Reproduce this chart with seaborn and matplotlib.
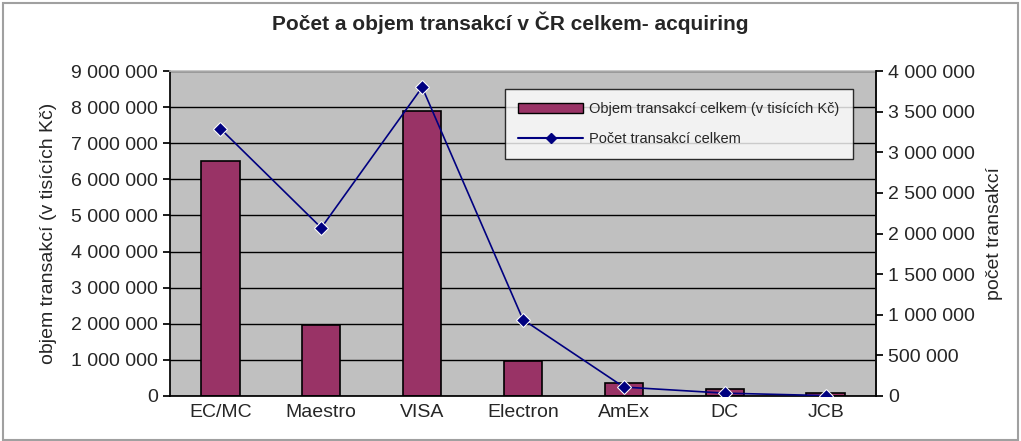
import matplotlib
matplotlib.use("Agg")
import matplotlib.pyplot as plt
import seaborn as sns
import pandas as pd
import numpy as np
from matplotlib.ticker import FuncFormatter

categories = ["EC/MC", "Maestro", "VISA", "Electron", "AmEx", "DC", "JCB"]
objem = [6500000, 1960000, 7900000, 970000, 360000, 190000, 80000]
pocet = [3290000, 2070000, 3800000, 940000, 110000, 35000, 5000]

df = pd.DataFrame({"karta": categories, "objem": objem, "pocet": pocet})

sns.set_theme(style="white")
plt.rcParams['font.family'] = ['Liberation Sans', 'DejaVu Sans']

fig = plt.figure(figsize=(10.21, 4.41), dpi=100)
ax = fig.add_axes([170/1021, 1 - 396/441, (876-170)/1021, (396-71)/441])
ax.set_facecolor("#c0c0c0")

sns.barplot(data=df, x="karta", y="objem", ax=ax, color="#993366",
            edgecolor="black", linewidth=1.2, width=0.38, saturation=1)
ax.set_ylim(0, 9000000)
ax.set_yticks(np.arange(0, 9000001, 1000000))
fmt = FuncFormatter(lambda v, p: f"{int(v):,}".replace(",", " "))
ax.yaxis.set_major_formatter(fmt)
ax.grid(axis="y", color="black", linewidth=1)
ax.set_axisbelow(True)
ax.set_xlabel("")
ax.set_ylabel("objem transakcí (v tisících Kč)", fontsize=14, labelpad=10)
ax.tick_params(axis="both", labelsize=14, length=5, color="black", direction="out")
ax.tick_params(axis="x", pad=6)
ax.set_xlim(-0.5, 6.5)
ax.set_xticks(np.arange(-0.5, 7, 1), minor=True)
ax.tick_params(axis="x", which="major", length=0)
ax.tick_params(axis="x", which="minor", length=5, color="black")
for s in ["left", "bottom", "right", "top"]:
    ax.spines[s].set_color("black")
ax.spines["top"].set_color("#c0c0c0")
ax.spines["right"].set_color("#808080")

ax2 = ax.twinx()
sns.lineplot(data=df, x="karta", y="pocet", ax=ax2, color="#000080",
             marker="D", markersize=7, linewidth=1.2, sort=False)
ax2.set_ylim(0, 4000000)
ax2.set_yticks(np.arange(0, 4000001, 500000))
ax2.yaxis.set_major_formatter(fmt)
ax2.set_ylabel("počet transakcí", fontsize=14, labelpad=8)
ax2.tick_params(axis="y", labelsize=14, length=5, color="black", direction="out")
ax2.spines["right"].set_color("black")
ax2.spines["left"].set_visible(False)
ax2.spines["top"].set_visible(False)
ax2.spines["bottom"].set_visible(False)
ax2.set_xlabel("")

from matplotlib.patches import Patch
from matplotlib.lines import Line2D
handles = [Patch(facecolor="#993366", edgecolor="black", label="Objem transakcí celkem (v tisících Kč)"),
           Line2D([0], [0], color="#000080", marker="D", markersize=5, label="Počet transakcí celkem")]
leg = ax2.legend(handles=handles, loc="upper right", bbox_to_anchor=(0.967, 0.945),
                 fontsize=10.5, frameon=True, fancybox=False, facecolor="white",
                 edgecolor="black", handlelength=4.5, borderpad=0.9, labelspacing=1.1,
                 borderaxespad=0, handletextpad=0.4)
leg.get_frame().set_linewidth(1)

fig.suptitle("Počet a objem transakcí v ČR celkem- acquiring", fontsize=15,
             fontweight="bold", y=0.975)

fig.patches.append(plt.Rectangle((0.003, 0.003), 0.994, 0.99, transform=fig.transFigure,
                                 fill=False, edgecolor="#a0a0a0", linewidth=1.5))
fig.savefig("out.png", dpi=100)
